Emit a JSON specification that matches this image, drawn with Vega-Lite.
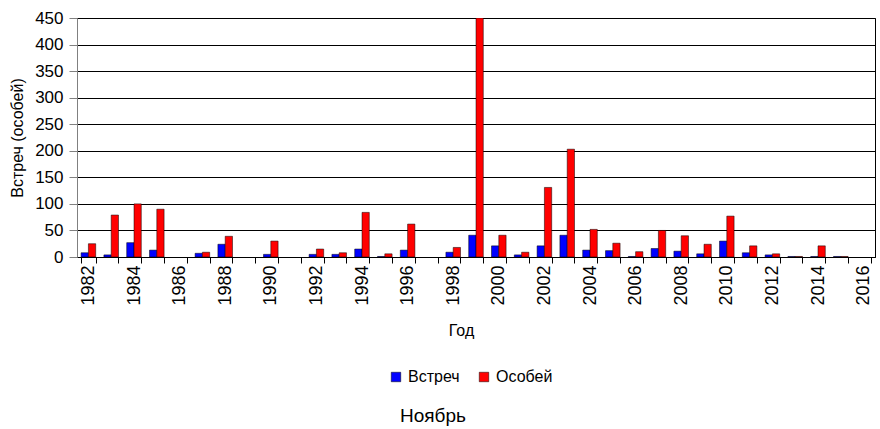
{
  "$schema": "https://vega.github.io/schema/vega-lite/v6.json",
  "width": 798,
  "height": 239,
  "autosize": {"type": "none"},
  "padding": {"left": 77, "top": 18, "right": 5, "bottom": 172},
  "background": "white",
  "config": {
    "font": "Liberation Sans",
    "view": {"stroke": "#000", "strokeWidth": 1}
  },
  "title": {
    "text": "Ноябрь",
    "orient": "bottom",
    "anchor": "middle",
    "frame": "group",
    "fontSize": 19,
    "fontWeight": "normal",
    "color": "#000",
    "dx": -43,
    "offset": 22
  },
  "data": {
    "values": [
      {"year": "1982", "series": "Встреч", "value": 8},
      {"year": "1982", "series": "Особей", "value": 25},
      {"year": "1983", "series": "Встреч", "value": 4},
      {"year": "1983", "series": "Особей", "value": 79},
      {"year": "1984", "series": "Встреч", "value": 27},
      {"year": "1984", "series": "Особей", "value": 100},
      {"year": "1985", "series": "Встреч", "value": 13},
      {"year": "1985", "series": "Особей", "value": 90},
      {"year": "1987", "series": "Встреч", "value": 7},
      {"year": "1987", "series": "Особей", "value": 9},
      {"year": "1988", "series": "Встреч", "value": 24},
      {"year": "1988", "series": "Особей", "value": 39},
      {"year": "1990", "series": "Встреч", "value": 5},
      {"year": "1990", "series": "Особей", "value": 30},
      {"year": "1992", "series": "Встреч", "value": 5},
      {"year": "1992", "series": "Особей", "value": 15},
      {"year": "1993", "series": "Встреч", "value": 5},
      {"year": "1993", "series": "Особей", "value": 8},
      {"year": "1994", "series": "Встреч", "value": 15},
      {"year": "1994", "series": "Особей", "value": 84},
      {"year": "1995", "series": "Встреч", "value": 1},
      {"year": "1995", "series": "Особей", "value": 6},
      {"year": "1996", "series": "Встреч", "value": 13},
      {"year": "1996", "series": "Особей", "value": 62},
      {"year": "1998", "series": "Встреч", "value": 9},
      {"year": "1998", "series": "Особей", "value": 18},
      {"year": "1999", "series": "Встреч", "value": 41},
      {"year": "1999", "series": "Особей", "value": 450},
      {"year": "2000", "series": "Встреч", "value": 21},
      {"year": "2000", "series": "Особей", "value": 41},
      {"year": "2001", "series": "Встреч", "value": 4},
      {"year": "2001", "series": "Особей", "value": 9},
      {"year": "2002", "series": "Встреч", "value": 21},
      {"year": "2002", "series": "Особей", "value": 131},
      {"year": "2003", "series": "Встреч", "value": 41},
      {"year": "2003", "series": "Особей", "value": 203},
      {"year": "2004", "series": "Встреч", "value": 13},
      {"year": "2004", "series": "Особей", "value": 52},
      {"year": "2005", "series": "Встреч", "value": 12},
      {"year": "2005", "series": "Особей", "value": 26},
      {"year": "2006", "series": "Встреч", "value": 1},
      {"year": "2006", "series": "Особей", "value": 10},
      {"year": "2007", "series": "Встреч", "value": 16},
      {"year": "2007", "series": "Особей", "value": 50},
      {"year": "2008", "series": "Встреч", "value": 11},
      {"year": "2008", "series": "Особей", "value": 40},
      {"year": "2009", "series": "Встреч", "value": 6},
      {"year": "2009", "series": "Особей", "value": 24},
      {"year": "2010", "series": "Встреч", "value": 30},
      {"year": "2010", "series": "Особей", "value": 77},
      {"year": "2011", "series": "Встреч", "value": 8},
      {"year": "2011", "series": "Особей", "value": 21},
      {"year": "2012", "series": "Встреч", "value": 4},
      {"year": "2012", "series": "Особей", "value": 6},
      {"year": "2013", "series": "Встреч", "value": 1},
      {"year": "2013", "series": "Особей", "value": 1},
      {"year": "2014", "series": "Встреч", "value": 1},
      {"year": "2014", "series": "Особей", "value": 21},
      {"year": "2015", "series": "Встреч", "value": 1},
      {"year": "2015", "series": "Особей", "value": 1}
    ]
  },
  "mark": {"type": "bar", "stroke": "#000", "strokeWidth": 0.5, "clip": true},
  "encoding": {
    "x": {
      "field": "year",
      "type": "ordinal",
      "scale": {
        "domain": ["1982","1983","1984","1985","1986","1987","1988","1989","1990","1991","1992","1993","1994","1995","1996","1997","1998","1999","2000","2001","2002","2003","2004","2005","2006","2007","2008","2009","2010","2011","2012","2013","2014","2015","2016"],
        "paddingInner": 0.36,
        "paddingOuter": 0.18
      },
      "axis": {
        "title": "Год",
        "titleFont": "Liberation Sans",
        "titleFontSize": 16,
        "titleFontWeight": "normal",
        "titleColor": "#000",
        "titleX": 384,
        "titleY": 73,
        "titleBaseline": "middle",
        "labelAngle": -90,
        "labelAlign": "right",
        "labelBaseline": "middle",
        "labelFontSize": 18,
        "labelColor": "#000",
        "labelPadding": 2,
        "labelOverlap": false,
        "labelExpr": "toNumber(datum.value) % 2 == 0 ? datum.value : ''",
        "tickBand": "extent",
        "tickSize": 6,
        "tickColor": "#000",
        "domainColor": "#000",
        "grid": false
      }
    },
    "xOffset": {"field": "series", "type": "nominal", "sort": ["Встреч", "Особей"]},
    "y": {
      "field": "value",
      "type": "quantitative",
      "scale": {"domain": [0, 450], "nice": false},
      "axis": {
        "title": "Встреч (особей)",
        "titleFontSize": 16,
        "titleFontWeight": "normal",
        "titleColor": "#000",
        "titlePadding": 9,
        "values": [0, 50, 100, 150, 200, 250, 300, 350, 400, 450],
        "labelFontSize": 17,
        "labelColor": "#000",
        "labelPadding": 6,
        "tickSize": 8,
        "tickColor": "#808080",
        "domainColor": "#808080",
        "gridColor": "#000",
        "gridWidth": 1
      }
    },
    "color": {
      "field": "series",
      "type": "nominal",
      "sort": ["Встреч", "Особей"],
      "scale": {"domain": ["Встреч", "Особей"], "range": ["#0000FF", "#FF0000"]},
      "legend": {
        "title": null,
        "orient": "none",
        "direction": "horizontal",
        "legendX": 311,
        "legendY": 351,
        "symbolType": "square",
        "symbolSize": 90,
        "symbolStrokeWidth": 0.5,
        "symbolStrokeColor": "#000",
        "labelFontSize": 16,
        "labelColor": "#000",
        "labelOffset": 4,
        "columnPadding": 16
      }
    }
  }
}
